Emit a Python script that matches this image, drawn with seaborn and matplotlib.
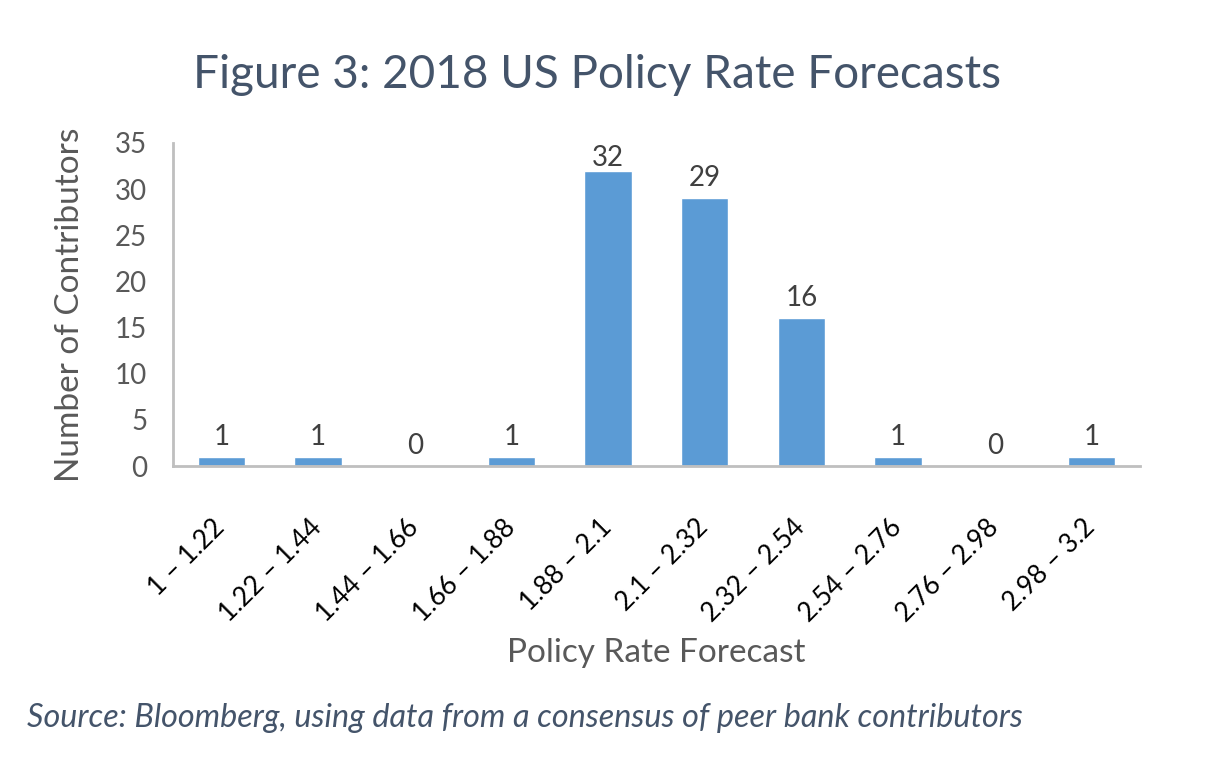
import matplotlib
matplotlib.use("Agg")
import matplotlib.pyplot as plt
import matplotlib.transforms as mtransforms
import seaborn as sns
import pandas as pd

categories = ["1 \u2013 1.22", "1.22 \u2013 1.44", "1.44 \u2013 1.66", "1.66 \u2013 1.88",
              "1.88 \u2013 2.1", "2.1 \u2013 2.32", "2.32 \u2013 2.54", "2.54 \u2013 2.76",
              "2.76 \u2013 2.98", "2.98 \u2013 3.2"]
counts = [1, 1, 0, 1, 32, 29, 16, 1, 0, 1]
y_ticks = [0, 5, 10, 15, 20, 25, 30, 35]

sns.set_theme(style="white")
plt.rcParams["font.family"] = ["Lato", "DejaVu Sans"]

df = pd.DataFrame({"cat": categories, "n": counts})

fig = plt.figure(figsize=(12.1, 7.75), dpi=100)
ax = fig.add_axes([0.143, 0.3987, 0.799, 0.4168])
sns.barplot(data=df, x="cat", y="n", color="#5B9BD5", width=0.49,
            saturation=1, ax=ax)

ax.set_ylim(0, 35)
ax.set_xlim(-0.5, len(categories) - 0.5)
ax.set_yticks(y_ticks)
ax.set_yticklabels([str(v) for v in y_ticks], fontsize=20, color="#595959")
ax.tick_params(axis="y", length=0, pad=18.5)
ax.tick_params(axis="x", length=0, pad=10)
offset = mtransforms.ScaledTranslation(-0.09, -0.35, fig.dpi_scale_trans)
for lab in ax.get_xticklabels():
    lab.set_rotation(45)
    lab.set_ha("right")
    lab.set_rotation_mode("anchor")
    lab.set_fontsize(19)
    lab.set_color("black")
    lab.set_transform(lab.get_transform() + offset)

for s in ["top", "right"]:
    ax.spines[s].set_visible(False)
for s in ["left", "bottom"]:
    ax.spines[s].set_color("#BFBFBF")
    ax.spines[s].set_linewidth(2)

top = max(counts)
container = ax.containers[0]
ax.bar_label(container, labels=[str(v) if v != top else "" for v in counts],
             fontsize=20, color="#404040", padding=5)
ax.bar_label(container, labels=[str(v) if v == top else "" for v in counts],
             fontsize=20, color="#404040", padding=0)

ax.set_xlabel("Policy Rate Forecast", fontsize=24, color="#595959", va="center")
ax.xaxis.set_label_coords(0.5, -0.579)
ax.set_ylabel("Number of Contributors", fontsize=24, color="#595959", va="center")
ax.yaxis.set_label_coords(-0.1065, 0.5)

fig.text(0.493, 0.903, "Figure 3: 2018 US Policy Rate Forecasts", ha="center",
         va="center", fontsize=33, color="#44546A")
fig.text(0.022, 0.073, "Source: Bloomberg, using data from a consensus of peer bank contributors",
         ha="left", va="center", fontsize=23.3, color="#44546A", style="italic")

fig.savefig("out.png", dpi=100)
